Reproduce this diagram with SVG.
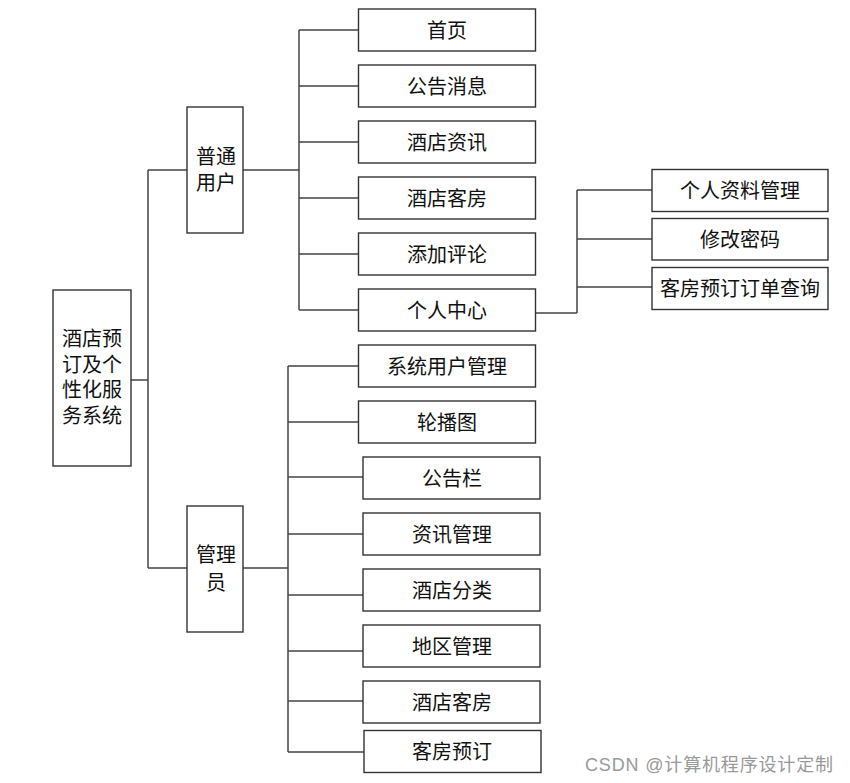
<svg xmlns="http://www.w3.org/2000/svg" width="850" height="783" viewBox="0 0 850 783">
<style>
.box{fill:#fff;stroke:#333;stroke-width:1.4}
.t{font-family:"Liberation Sans","Noto Sans CJK SC",sans-serif;font-size:20px;fill:#111;text-anchor:middle;dominant-baseline:central}
.ln{fill:none;stroke:#444;stroke-width:1.5}
.wm{font-family:"Liberation Sans","Noto Sans CJK SC",sans-serif;font-size:18px;fill:#999}
</style>
<rect width="850" height="783" fill="#fff"/>
<g id="connectors">
<path class="ln" d="M131,380H148M148,170V568M148,170H187M148,568H187"/>
<path class="ln" d="M243,170H299M299,30V310M299,30H358M299,86H358M299,142H358M299,198H358M299,254H358M299,310H358"/>
<path class="ln" d="M536,313H577M577,190V313M577,190H652M577,239H652M577,287H652"/>
<path class="ln" d="M243,568H288M288,366V752M288,366H358M288,422H358M288,477H363M288,534H363M288,595H363M288,651H363M288,701H363M288,752H364"/>
</g>
<g id="root"><rect class="box" x="53" y="290" width="78" height="176"/>
<text class="t"><tspan x="92" y="339">酒店预</tspan><tspan x="92" y="365">订及个</tspan><tspan x="92" y="390">性化服</tspan><tspan x="92" y="416">务系统</tspan></text></g>
<g id="user"><rect class="box" x="187" y="107" width="56" height="126"/>
<text class="t"><tspan x="216" y="157">普通</tspan><tspan x="216" y="183">用户</tspan></text></g>
<g id="admin"><rect class="box" x="187" y="506" width="56" height="126"/>
<text class="t"><tspan x="216" y="555">管理</tspan><tspan x="216" y="583">员</tspan></text></g>
<g id="u1"><rect class="box" x="358.5" y="9" width="177" height="42"/><text class="t" x="447" y="31">首页</text></g>
<g id="u2"><rect class="box" x="358.5" y="65" width="177" height="42"/><text class="t" x="447" y="87">公告消息</text></g>
<g id="u3"><rect class="box" x="358.5" y="121" width="177" height="42"/><text class="t" x="447" y="143">酒店资讯</text></g>
<g id="u4"><rect class="box" x="358.5" y="177" width="177" height="42"/><text class="t" x="447" y="199">酒店客房</text></g>
<g id="u5"><rect class="box" x="358.5" y="233" width="177" height="42"/><text class="t" x="447" y="255">添加评论</text></g>
<g id="u6"><rect class="box" x="358.5" y="289" width="177" height="42"/><text class="t" x="447" y="311">个人中心</text></g>
<g id="p1"><rect class="box" x="652" y="169.5" width="176" height="42"/><text class="t" x="740" y="191">个人资料管理</text></g>
<g id="p2"><rect class="box" x="652" y="218.5" width="176" height="41.5"/><text class="t" x="740" y="240">修改密码</text></g>
<g id="p3"><rect class="box" x="652" y="267.5" width="176" height="42"/><text class="t" x="740" y="289">客房预订订单查询</text></g>
<g id="a1"><rect class="box" x="358.5" y="345" width="177" height="42"/><text class="t" x="447" y="367">系统用户管理</text></g>
<g id="a2"><rect class="box" x="358.5" y="401" width="177" height="42"/><text class="t" x="447" y="423">轮播图</text></g>
<g id="a3"><rect class="box" x="363" y="457" width="177" height="42"/><text class="t" x="452" y="479">公告栏</text></g>
<g id="a4"><rect class="box" x="363" y="513" width="177" height="42"/><text class="t" x="452" y="535">资讯管理</text></g>
<g id="a5"><rect class="box" x="363" y="569" width="177" height="42"/><text class="t" x="452" y="591">酒店分类</text></g>
<g id="a6"><rect class="box" x="363" y="625" width="177" height="42"/><text class="t" x="452" y="647">地区管理</text></g>
<g id="a7"><rect class="box" x="363" y="681" width="177" height="42"/><text class="t" x="452" y="703">酒店客房</text></g>
<g id="a8"><rect class="box" x="364" y="730.5" width="177" height="42"/><text class="t" x="452" y="752">客房预订</text></g>
<text class="wm" x="585" y="771" textLength="248" lengthAdjust="spacing">CSDN @计算机程序设计定制</text>
</svg>
